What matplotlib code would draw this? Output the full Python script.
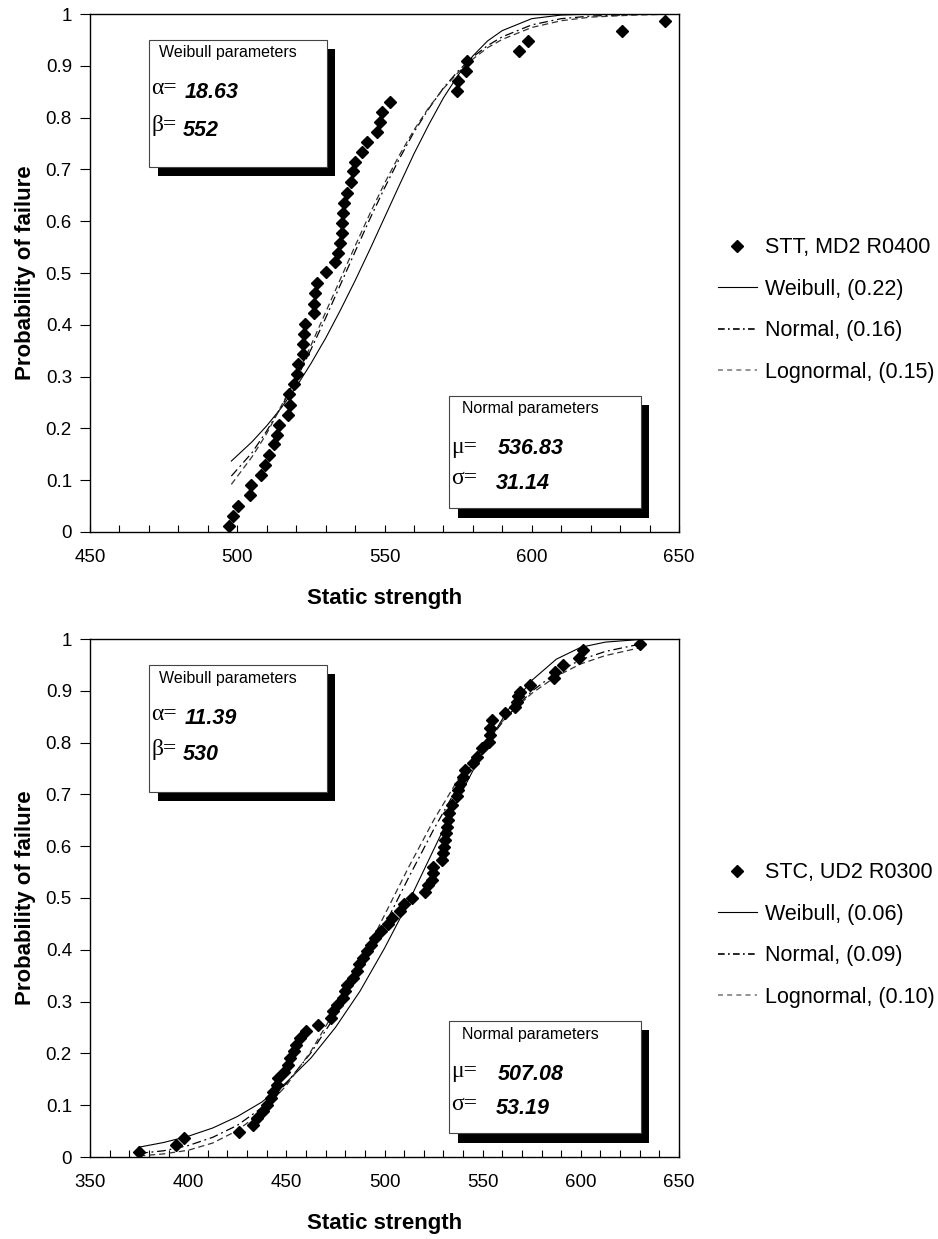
import matplotlib
matplotlib.use('Agg')
import matplotlib.pyplot as plt
from matplotlib.patches import Rectangle
from matplotlib.lines import Line2D
from matplotlib.ticker import MultipleLocator, FixedLocator

plt.rcParams['font.family'] = ['Liberation Sans', 'DejaVu Sans']

W, H = 938, 1239

# ---- top chart: STT, MD2 R0400 ----
stt_x = [497.3, 498.7, 500.4, 504.3, 504.7, 508.1, 509.4, 510.9, 512.5, 513.6,
         514.3, 517.3, 517.9, 517.6, 519.3, 520.4, 520.7, 522.4, 522.4, 522.7,
         523.0, 526.1, 526.1, 526.4, 527.0, 530.3, 533.2, 534.3, 534.9, 535.5,
         535.5, 536.0, 536.2, 537.1, 538.5, 539.4, 540.0, 542.2, 543.9, 547.3,
         548.5, 549.0, 551.9, 574.5, 575.1, 577.7, 577.9, 595.8, 598.8, 630.5, 645.2]
stt_p = [0.012, 0.031, 0.050, 0.071, 0.091, 0.110, 0.129, 0.149, 0.169, 0.187,
         0.207, 0.226, 0.245, 0.266, 0.286, 0.305, 0.324, 0.344, 0.363, 0.382,
         0.402, 0.422, 0.441, 0.461, 0.480, 0.502, 0.522, 0.538, 0.557, 0.577,
         0.596, 0.615, 0.635, 0.654, 0.676, 0.696, 0.715, 0.734, 0.753, 0.773,
         0.792, 0.811, 0.831, 0.852, 0.871, 0.890, 0.910, 0.929, 0.948, 0.968, 0.987]

fit_x_top = [498, 505, 510, 515, 520, 525, 530, 535, 540, 545, 550, 555, 560,
             565, 570, 575, 580, 585, 590, 600, 610, 620, 635, 650]
weib_top = [0.137, 0.174, 0.205, 0.240, 0.280, 0.325, 0.374, 0.428, 0.485, 0.545,
            0.607, 0.669, 0.730, 0.786, 0.838, 0.882, 0.919, 0.948, 0.968, 0.991,
            0.998, 1.0, 1.0, 1.0]
norm_top = [0.108, 0.153, 0.195, 0.242, 0.294, 0.352, 0.413, 0.477, 0.541, 0.604,
            0.664, 0.720, 0.772, 0.817, 0.857, 0.890, 0.917, 0.939, 0.956, 0.979,
            0.991, 0.996, 0.999, 1.0]
logn_top = [0.092, 0.145, 0.190, 0.244, 0.298, 0.360, 0.424, 0.488, 0.552, 0.614,
            0.673, 0.727, 0.776, 0.819, 0.856, 0.887, 0.913, 0.935, 0.951, 0.974,
            0.987, 0.994, 0.998, 1.0]
labels_top = ['STT, MD2 R0400', 'Weibull, (0.22)', 'Normal, (0.16)', 'Lognormal, (0.15)']
params_top = ['18.63', '552', '536.83', '31.14']

# ---- bottom chart: STC, UD2 R0300 ----
stc_x = [375, 394, 398, 426, 433, 435, 438, 440, 442, 443,
         445, 446, 449, 451, 452, 454, 455, 457, 460, 466,
         473, 474, 476, 479, 480, 481, 484, 486, 487, 489,
         491, 493, 495, 498, 502, 504, 508, 510, 514, 520.7,
         522.3, 524.1, 524.6, 524.9, 529.1, 529.7, 530.3, 530.8, 531.4, 531.7,
         532.5, 533.0, 534.2, 536.8, 537.6, 538.5, 540.2, 541.0, 545.3, 547.0,
         549.6, 553.0, 553.5, 553.8, 554.6, 561.4, 566.5, 567.3, 568.2, 569.0,
         574.1, 586.4, 586.9, 591.1, 599.3, 601.0, 630.0]
stc_p = [0.010, 0.023, 0.036, 0.049, 0.062, 0.075, 0.088, 0.101, 0.114, 0.126,
         0.139, 0.152, 0.165, 0.178, 0.191, 0.204, 0.217, 0.230, 0.243, 0.255,
         0.268, 0.281, 0.294, 0.307, 0.320, 0.333, 0.346, 0.359, 0.372, 0.385,
         0.397, 0.410, 0.423, 0.436, 0.449, 0.462, 0.475, 0.488, 0.500, 0.512,
         0.525, 0.535, 0.548, 0.560, 0.573, 0.586, 0.599, 0.612, 0.625, 0.638,
         0.651, 0.664, 0.680, 0.696, 0.708, 0.721, 0.734, 0.747, 0.760, 0.773,
         0.789, 0.802, 0.815, 0.828, 0.844, 0.857, 0.869, 0.879, 0.890, 0.898,
         0.911, 0.924, 0.937, 0.950, 0.963, 0.979, 0.990]

fit_x_bot = [375, 387.5, 400, 412.5, 425, 437.5, 450, 462.5, 475, 487.5, 500,
             512.5, 525, 537.5, 550, 562.5, 575, 587.5, 600, 612.5, 630]
weib_bot = [0.019, 0.028, 0.040, 0.056, 0.078, 0.106, 0.144, 0.191, 0.250, 0.320, 0.403,
            0.494, 0.593, 0.691, 0.782, 0.861, 0.920, 0.961, 0.984, 0.994, 0.999]
norm_bot = [0.007, 0.012, 0.022, 0.038, 0.061, 0.095, 0.142, 0.201, 0.273, 0.356, 0.447,
            0.541, 0.632, 0.716, 0.790, 0.851, 0.899, 0.935, 0.960, 0.976, 0.990]
logn_bot = [0.002, 0.006, 0.013, 0.027, 0.051, 0.087, 0.138, 0.204, 0.284, 0.372, 0.467,
            0.561, 0.650, 0.729, 0.796, 0.852, 0.895, 0.928, 0.952, 0.968, 0.983]
labels_bot = ['STC, UD2 R0300', 'Weibull, (0.06)', 'Normal, (0.09)', 'Lognormal, (0.10)']
params_bot = ['11.39', '530', '507.08', '53.19']

ytick_vals = [0, 0.1, 0.2, 0.3, 0.4, 0.5, 0.6, 0.7, 0.8, 0.9, 1]
ytick_labels = ['0', '0.1', '0.2', '0.3', '0.4', '0.5', '0.6', '0.7', '0.8', '0.9', '1']

fig = plt.figure(figsize=(W / 100, H / 100), dpi=100)


def fig_rect(x0, y0, x1, y1, **kw):
    fig.add_artist(Rectangle((x0 / W, 1 - y1 / H), (x1 - x0) / W, (y1 - y0) / H,
                             transform=fig.transFigure, **kw))


def fig_txt(x, y, s, **kw):
    fig.text(x / W, 1 - y / H, s, ha='left', va='center', **kw)


def draw_chart(off, xlim, px, pp, fx, fw, fn, fl, labels, params):
    ax = fig.add_axes([90 / W, 1 - (532 + off) / H, 589 / W, 518 / H])
    ax.plot(fx, fw, color='black', lw=0.8, ls='-', zorder=2)
    ax.plot(fx, fn, color='black', lw=0.9, ls=(0, (7, 3, 1.5, 3)), zorder=2)
    ax.plot(fx, fl, color='#333333', lw=0.9, ls=(0, (5, 3)), zorder=2)
    ax.plot(px, pp, ls='none', marker='D', ms=6.3, color='black', zorder=3)

    ax.set_xlim(*xlim)
    ax.set_ylim(0, 1)
    ax.xaxis.set_major_locator(MultipleLocator(50))
    ax.xaxis.set_minor_locator(MultipleLocator(10))
    ax.yaxis.set_major_locator(FixedLocator(ytick_vals))
    ax.set_yticklabels(ytick_labels)
    ax.tick_params(axis='x', which='both', direction='in', length=5, width=0.8,
                   labelsize=13.5, pad=12)
    ax.tick_params(axis='y', which='both', direction='out', length=7, width=0.8,
                   labelsize=13.5, pad=6)
    for sp in ax.spines.values():
        sp.set_linewidth(1.0)
    ax.set_xlabel('Static strength', fontsize=16, fontweight='bold')
    ax.xaxis.set_label_coords(0.5, -0.108)
    ax.set_ylabel('Probability of failure', fontsize=16, fontweight='bold')
    ax.yaxis.set_label_coords(-0.092, 0.5)

    handles = [Line2D([], [], ls='none', marker='D', ms=6.3, color='black'),
               Line2D([], [], color='black', lw=0.8),
               Line2D([], [], color='black', lw=1.2, ls=(0, (4, 2, 1, 2))),
               Line2D([], [], color='#808080', lw=1.2, ls=(0, (3, 2.5)))]
    ax.legend(handles, labels, loc='center left',
              bbox_to_anchor=(707 / W, 1 - (310 + off) / H), bbox_transform=fig.transFigure,
              frameon=False, fontsize=15.5, borderpad=0, handlelength=1.8,
              handletextpad=0.4, labelspacing=0.95, numpoints=1)

    # Weibull parameter box
    fig_rect(158, 49 + off, 335, 176 + off, fc='black', ec='none', zorder=5)
    fig_rect(149, 40 + off, 327, 167 + off, fc='white', ec='#444444', lw=0.8, zorder=6)
    fig_txt(159, 53 + off, 'Weibull parameters', fontsize=11.5, zorder=7)
    fig_txt(151, 89 + off, '\u03b1=', fontsize=17, family='Liberation Serif', zorder=7)
    fig_txt(185, 93 + off, params[0], fontsize=15.5, fontweight='bold', style='italic', zorder=7)
    fig_txt(151, 125 + off, '\u03b2=', fontsize=17, family='Liberation Serif', zorder=7)
    fig_txt(183, 130 + off, params[1], fontsize=15.5, fontweight='bold', style='italic', zorder=7)

    # Normal parameter box
    fig_rect(458, 405 + off, 649, 518 + off, fc='black', ec='none', zorder=5)
    fig_rect(449, 396 + off, 641, 508 + off, fc='white', ec='#444444', lw=0.8, zorder=6)
    fig_txt(462, 409 + off, 'Normal parameters', fontsize=11.5, zorder=7)
    fig_txt(451, 447 + off, '\u03bc=', fontsize=17, family='Liberation Serif', zorder=7)
    fig_txt(498, 449 + off, params[2], fontsize=15.5, fontweight='bold', style='italic', zorder=7)
    fig_txt(451, 479 + off, '\u03c3=', fontsize=17, family='Liberation Serif', zorder=7)
    fig_txt(496, 483 + off, params[3], fontsize=15.5, fontweight='bold', style='italic', zorder=7)
    return ax


draw_chart(0, (450, 650), stt_x, stt_p, fit_x_top, weib_top, norm_top, logn_top,
           labels_top, params_top)
draw_chart(625, (350, 650), stc_x, stc_p, fit_x_bot, weib_bot, norm_bot, logn_bot,
           labels_bot, params_bot)

fig.savefig('out.png', dpi=100, facecolor='white')
